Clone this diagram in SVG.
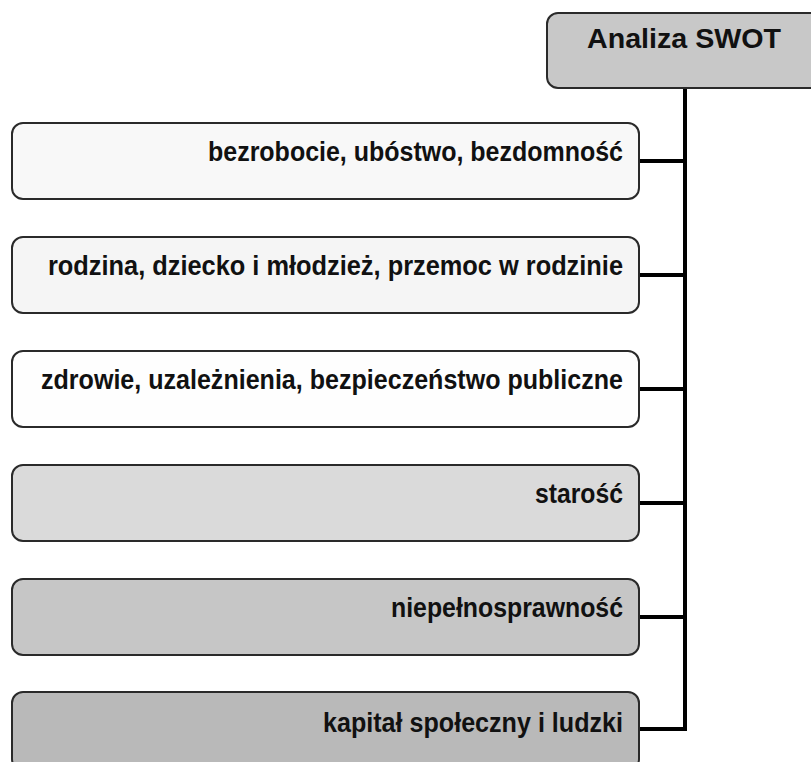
<svg xmlns="http://www.w3.org/2000/svg" width="811" height="762" viewBox="0 0 811 762">
<style>
.box{stroke:#2a2a2a;stroke-width:2}
.lbl{font-family:"Liberation Sans",Arial,sans-serif;font-weight:bold;font-size:28px;fill:#111}
.conn{stroke:#000;stroke-width:4;fill:none}
</style>
<rect width="811" height="762" fill="#ffffff"/>
<g id="connectors">
<line class="conn" x1="685" y1="88" x2="685" y2="731"/>
<line class="conn" x1="639" y1="161" x2="687" y2="161"/>
<line class="conn" x1="639" y1="275" x2="687" y2="275"/>
<line class="conn" x1="639" y1="389" x2="687" y2="389"/>
<line class="conn" x1="639" y1="503" x2="687" y2="503"/>
<line class="conn" x1="639" y1="617" x2="687" y2="617"/>
<line class="conn" x1="639" y1="729" x2="687" y2="729"/>
</g>
<g id="node-swot">
<rect class="box" x="547" y="13" width="290" height="75" rx="11" fill="#c8c8c8"/>
<text class="lbl" x="587" y="48" font-size="29" textLength="194" lengthAdjust="spacingAndGlyphs">Analiza SWOT</text>
</g>
<g id="node-1">
<rect class="box" x="12" y="123" width="627" height="76" rx="11" fill="#f8f8f8"/>
<text class="lbl" x="208" y="161" textLength="415" lengthAdjust="spacingAndGlyphs">bezrobocie, ubóstwo, bezdomność</text>
</g>
<g id="node-2">
<rect class="box" x="12" y="237" width="627" height="76" rx="11" fill="#f5f5f5"/>
<text class="lbl" x="48" y="275" textLength="575" lengthAdjust="spacingAndGlyphs">rodzina, dziecko i młodzież, przemoc w rodzinie</text>
</g>
<g id="node-3">
<rect class="box" x="12" y="351" width="627" height="76" rx="11" fill="#fefefe"/>
<text class="lbl" x="41" y="389" textLength="582" lengthAdjust="spacingAndGlyphs">zdrowie, uzależnienia, bezpieczeństwo publiczne</text>
</g>
<g id="node-4">
<rect class="box" x="12" y="465" width="627" height="76" rx="11" fill="#dadada"/>
<text class="lbl" x="535" y="503" textLength="88" lengthAdjust="spacingAndGlyphs">starość</text>
</g>
<g id="node-5">
<rect class="box" x="12" y="579" width="627" height="76" rx="11" fill="#c6c6c6"/>
<text class="lbl" x="391" y="617" textLength="232" lengthAdjust="spacingAndGlyphs">niepełnosprawność</text>
</g>
<g id="node-6">
<rect class="box" x="12" y="692" width="627" height="78" rx="11" fill="#b9b9b9"/>
<text class="lbl" x="323" y="732" textLength="300" lengthAdjust="spacingAndGlyphs">kapitał społeczny i ludzki</text>
</g>
</svg>
